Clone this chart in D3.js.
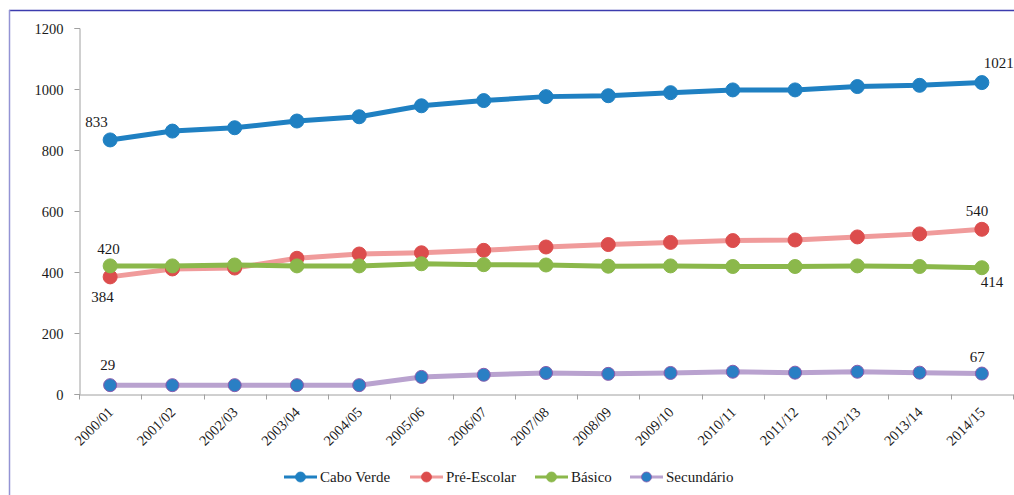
<!DOCTYPE html>
<html>
<head>
<meta charset="utf-8">
<script src="https://cdn.jsdelivr.net/npm/d3@7"></script>
<style>
  html, body { margin: 0; padding: 0; background: #fff; }
  svg { display: block; }
</style>
</head>
<body>
<svg id="chart" width="1014" height="495"></svg>
<script>
// School years on the horizontal axis
const years = ["2000/01","2001/02","2002/03","2003/04","2004/05","2005/06","2006/07","2007/08",
               "2008/09","2009/10","2010/11","2011/12","2012/13","2013/14","2014/15"];

// Values per series
const caboVerde  = [833, 862, 873, 895, 909, 945, 962, 975, 978, 988, 997, 997, 1008, 1012, 1021];
const preEscolar = [384, 410, 413, 445, 459, 463, 471, 482, 490, 497, 503, 505, 515, 525, 540];
const basico     = [420, 420, 423, 420, 420, 427, 424, 423, 419, 420, 418, 418, 420, 418, 414];
const secundario = [29, 29, 29, 29, 29, 56, 63, 69, 66, 69, 73, 70, 73, 70, 67];

const yTicks = [0, 200, 400, 600, 800, 1000, 1200];

const seriesNames = ["Cabo Verde", "Pré-Escolar", "Básico", "Secundário"];

const FONT = "Liberation Serif";

// Styling per series
const styles = [
  { values: caboVerde,  line: "#1f80c2", marker: "#1f80c2", stroke: "#1f80c2", lw: 5, r: 7 },
  { values: preEscolar, line: "#f09b9b", marker: "#dc4d4d", stroke: "#dc4d4d", lw: 5, r: 7 },
  { values: basico,     line: "#8bb84b", marker: "#8bb84b", stroke: "#8bb84b", lw: 5, r: 7 },
  { values: secundario, line: "#b9a2cf", marker: "#2a7fc4", stroke: "#8a5cad", lw: 5, r: 6.5 }
];

const svg = d3.select("#chart");

// Frame
svg.append("line").attr("x1", 9).attr("x2", 1014).attr("y1", 10.5).attr("y2", 10.5)
  .attr("stroke", "#3c3cae").attr("stroke-width", 1.5);
svg.append("line").attr("x1", 9.5).attr("x2", 9.5).attr("y1", 10).attr("y2", 495)
  .attr("stroke", "#9393d4").attr("stroke-width", 1.5);

const x = d3.scaleBand().domain(years).range([79, 1013]);
const y = d3.scaleLinear().domain([0, 1200]).range([394, 28]);
const cx = d => x(d) + x.bandwidth() / 2;

// Y axis
const yAxis = svg.append("g").attr("transform", "translate(79.5,0)")
  .call(d3.axisLeft(y).tickValues(yTicks).tickSize(5).tickPadding(11).tickFormat(d3.format("d")));
yAxis.attr("font-family", FONT);
yAxis.select(".domain").attr("stroke", "#a0a0a0");
yAxis.selectAll(".tick line").attr("stroke", "#a0a0a0");
yAxis.selectAll(".tick text").attr("font-size", 14.5)
  .attr("font-family", FONT).attr("fill", "#1a1a1a").attr("dy", "0.35em");

// X axis
const xAxis = svg.append("g").attr("transform", "translate(0,394.5)")
  .call(d3.axisBottom(x).tickSize(0).tickFormat(""));
xAxis.select(".domain").attr("stroke", "#a0a0a0");
// tick marks at category boundaries
const bounds = years.map(d => x(d)).concat([x.range()[1]]);
xAxis.selectAll(".bound").data(bounds).join("line")
  .attr("class", "bound")
  .attr("x1", d => Math.round(d) + 0.5).attr("x2", d => Math.round(d) + 0.5)
  .attr("y1", 0).attr("y2", 5).attr("stroke", "#a0a0a0");
xAxis.selectAll(".tick text").remove();
svg.append("g").selectAll("text").data(years).join("text")
  .attr("transform", d => `translate(${cx(d) + 4},${413}) rotate(-45)`)
  .attr("text-anchor", "end")
  .attr("font-family", FONT)
  .attr("font-size", 14.5)
  .attr("fill", "#1a1a1a")
  .text(d => d);

// Lines and markers
const lineGen = (vals) => d3.line().x((d, i) => cx(years[i])).y(d => y(d))(vals);

styles.forEach(s => {
  svg.append("path").attr("d", lineGen(s.values))
    .attr("fill", "none").attr("stroke", s.line).attr("stroke-width", s.lw)
    .attr("stroke-linejoin", "round");
});
styles.forEach(s => {
  svg.append("g").selectAll("circle").data(s.values).join("circle")
    .attr("cx", (d, i) => cx(years[i])).attr("cy", d => y(d))
    .attr("r", s.r).attr("fill", s.marker)
    .attr("stroke", s.stroke).attr("stroke-width", 1);
});

// Data labels on first and last points
const last = years.length - 1;
const labels = [
  { v: caboVerde[0],     i: 0,    dx: -25, dy: -13 },
  { v: caboVerde[last],  i: last, dx: 2,   dy: -15 },
  { v: preEscolar[0],    i: 0,    dx: -19, dy: 25 },
  { v: preEscolar[last], i: last, dx: -16, dy: -13 },
  { v: basico[0],        i: 0,    dx: -13, dy: -12 },
  { v: basico[last],     i: last, dx: -1,  dy: 19 },
  { v: secundario[0],    i: 0,    dx: -10, dy: -15 },
  { v: secundario[last], i: last, dx: -12, dy: -12 }
];
svg.append("g").selectAll("text").data(labels).join("text")
  .attr("x", d => cx(years[d.i]) + d.dx)
  .attr("y", d => y(d.v) + d.dy)
  .attr("font-family", FONT)
  .attr("font-size", 15)
  .attr("fill", "#1a1a1a")
  .text(d => d.v);

// Legend
const legendX = [284, 410, 535, 630];
const legend = svg.append("g");
styles.forEach((s, k) => {
  const g = legend.append("g").attr("transform", `translate(${legendX[k]},477)`);
  g.append("line").attr("x1", 0).attr("x2", 33).attr("y1", 0).attr("y2", 0)
    .attr("stroke", s.line).attr("stroke-width", 3);
  g.append("circle").attr("cx", 16.5).attr("cy", 0).attr("r", 5)
    .attr("fill", s.marker).attr("stroke", s.stroke).attr("stroke-width", 0.8);
  g.append("text").attr("x", 36).attr("y", 5)
    .attr("font-family", FONT).attr("font-size", 15).attr("fill", "#1a1a1a")
    .text(seriesNames[k]);
});
</script>
</body>
</html>
